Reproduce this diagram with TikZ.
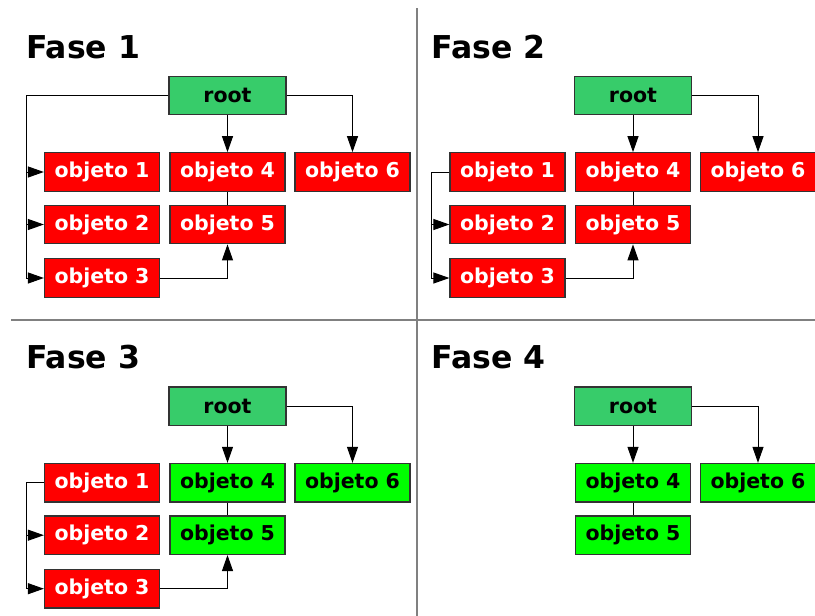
\documentclass[tikz,border=0pt]{standalone}
\usepackage{fontspec}
\setmainfont{DejaVu Sans}
\usetikzlibrary{arrows.meta}
\definecolor{verderaiz}{HTML}{37CC6A}
\definecolor{verdeobj}{HTML}{00FF00}
\definecolor{rojoobj}{HTML}{FF0000}
\definecolor{borde}{HTML}{333333}

\begin{document}
\begin{tikzpicture}[
  caja/.style={draw=borde, line width=1.2pt, minimum width=115pt, minimum height=38.5pt, inner sep=0pt, font=\fontsize{20.5}{20.5}\selectfont\bfseries},
  rojo/.style={caja, fill=rojoobj, text=white},
  verde/.style={caja, fill=verdeobj, text=black},
  raiz/.style={caja, fill=verderaiz, text=black, minimum width=117pt},
  flecha/.style={-{Triangle[length=16pt,width=11pt]}, line width=1pt},
  linea/.style={line width=1pt},
  titulo/.style={anchor=base west, inner sep=0pt, font=\fontsize{31.5}{31.5}\selectfont\bfseries},
  divisor/.style={draw=gray, line width=2pt}
]
  \useasboundingbox (0pt,0pt) rectangle (815pt,-616pt);
  \draw[divisor] (417pt,-8pt) -- (417pt,-616pt);
  \draw[divisor] (11pt,-320pt) -- (815pt,-320pt);

  % Fase 1
  \node[titulo] (t1) at (26pt,-58pt) {Fase 1};
  \node[raiz] (f1root) at (227.5pt,-95.5pt) {root};
  \node[rojo] (f1o1) at (102pt,-172pt) {objeto 1};
  \node[rojo] (f1o4) at (227.5pt,-172pt) {objeto 4};
  \node[rojo] (f1o6) at (352.5pt,-172pt) {objeto 6};
  \node[rojo] (f1o2) at (102pt,-224.5pt) {objeto 2};
  \node[rojo] (f1o5) at (227.5pt,-224.5pt) {objeto 5};
  \node[rojo] (f1o3) at (102pt,-278pt) {objeto 3};
  \coordinate (f1k) at (26pt,-95.5pt);
  \draw[linea] (f1root.west) -- (f1k);
  \draw[flecha] (f1k) |- (f1o3.west);
  \draw[flecha] (f1k |- f1o1.west) -- (f1o1.west);
  \draw[flecha] (f1k |- f1o2.west) -- (f1o2.west);
  \draw[flecha] (f1root) -- (f1o4);
  \draw[flecha] (f1root.east) -| (f1o6.north);
  \draw[linea] (f1o4) -- (f1o5);
  \draw[flecha] (f1o3.east) -| (f1o5.south);

  % Fase 2
  \begin{scope}[xshift=405.5pt]
  \node[titulo] (t2) at (26pt,-58pt) {Fase 2};
  \node[raiz] (f2root) at (227.5pt,-95.5pt) {root};
  \node[rojo] (f2o1) at (102pt,-172pt) {objeto 1};
  \node[rojo] (f2o4) at (227.5pt,-172pt) {objeto 4};
  \node[rojo] (f2o6) at (352.5pt,-172pt) {objeto 6};
  \node[rojo] (f2o2) at (102pt,-224.5pt) {objeto 2};
  \node[rojo] (f2o5) at (227.5pt,-224.5pt) {objeto 5};
  \node[rojo] (f2o3) at (102pt,-278pt) {objeto 3};
  \coordinate (f2k) at (26pt,-172pt);
  \draw[linea] (f2o1.west) -- (f2k);
  \draw[flecha] (f2k) |- (f2o3.west);
  \draw[flecha] (f2k |- f2o2.west) -- (f2o2.west);
  \draw[flecha] (f2root) -- (f2o4);
  \draw[flecha] (f2root.east) -| (f2o6.north);
  \draw[linea] (f2o4) -- (f2o5);
  \draw[flecha] (f2o3.east) -| (f2o5.south);
  \end{scope}

  % Fase 3
  \begin{scope}[yshift=-310.7pt]
  \node[titulo] (t3) at (26pt,-58pt) {Fase 3};
  \node[raiz] (f3root) at (227.5pt,-95.5pt) {root};
  \node[rojo] (f3o1) at (102pt,-172pt) {objeto 1};
  \node[verde] (f3o4) at (227.5pt,-172pt) {objeto 4};
  \node[verde] (f3o6) at (352.5pt,-172pt) {objeto 6};
  \node[rojo] (f3o2) at (102pt,-224.5pt) {objeto 2};
  \node[verde] (f3o5) at (227.5pt,-224.5pt) {objeto 5};
  \node[rojo] (f3o3) at (102pt,-278pt) {objeto 3};
  \coordinate (f3k) at (26pt,-172pt);
  \draw[linea] (f3o1.west) -- (f3k);
  \draw[flecha] (f3k) |- (f3o3.west);
  \draw[flecha] (f3k |- f3o2.west) -- (f3o2.west);
  \draw[flecha] (f3root) -- (f3o4);
  \draw[flecha] (f3root.east) -| (f3o6.north);
  \draw[linea] (f3o4) -- (f3o5);
  \draw[flecha] (f3o3.east) -| (f3o5.south);
  \end{scope}

  % Fase 4
  \begin{scope}[xshift=405.5pt, yshift=-310.7pt]
  \node[titulo] (t4) at (26pt,-58pt) {Fase 4};
  \node[raiz] (f4root) at (227.5pt,-95.5pt) {root};
  \node[verde] (f4o4) at (227.5pt,-172pt) {objeto 4};
  \node[verde] (f4o6) at (352.5pt,-172pt) {objeto 6};
  \node[verde] (f4o5) at (227.5pt,-224.5pt) {objeto 5};
  \draw[flecha] (f4root) -- (f4o4);
  \draw[flecha] (f4root.east) -| (f4o6.north);
  \draw[linea] (f4o4) -- (f4o5);
  \end{scope}
\end{tikzpicture}
\end{document}
